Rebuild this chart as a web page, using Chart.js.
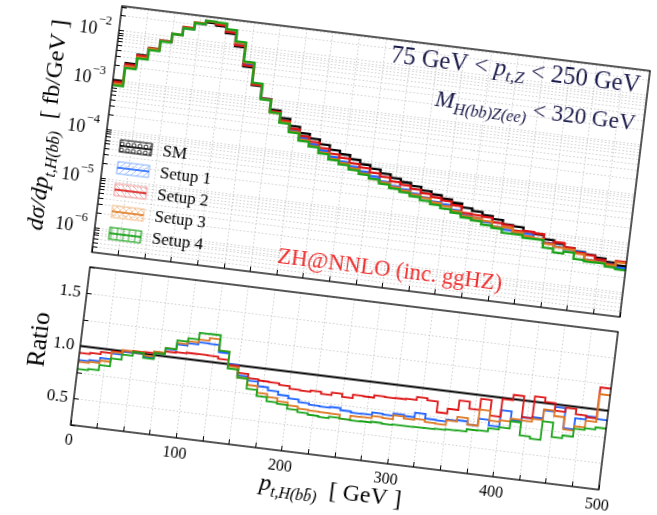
<!DOCTYPE html>
<html>
<head>
<meta charset="utf-8">
<script src="https://cdn.jsdelivr.net/npm/chart.js@4.4.0/dist/chart.umd.min.js"></script>
<style>
html, body { margin: 0; padding: 0; background: #fff; overflow: hidden; }
body { width: 657px; height: 515px; position: relative; }
#fig { position: absolute; left: 22px; top: -4px; width: 660px; height: 560px;
       transform-origin: 100px 10px; transform: rotate(7deg); }
#top { position: absolute; left: 0; top: 0; }
#bot { position: absolute; left: 0; top: 263px; }
</style>
</head>
<body>
<div id="fig">
  <canvas id="top" width="652" height="262"></canvas>
  <canvas id="bot" width="652" height="275"></canvas>
</div>
<script>
// bin edges in GeV (10 GeV bins)
const binEdges = [0,10,20,30,40,50,60,70,80,90,100,110,120,130,140,150,160,170,180,190,
  200,210,220,230,240,250,260,270,280,290,300,310,320,330,340,350,360,370,380,390,
  400,410,420,430,440,450,460,470,480,490,500];

// SM distribution, fb/GeV
const sm = [1.0e-3, 2.33e-3, 3.67e-3, 5.3e-3, 7.96e-3, 1.16e-2, 1.68e-2, 2.16e-2, 2.4e-2, 2.19e-2,
  1.65e-2, 9.4e-3, 3.9e-3, 1.73e-3, 9.9e-4, 6.2e-4, 4.5e-4, 3.3e-4, 2.5e-4, 2.06e-4,
  1.68e-4, 1.37e-4, 1.19e-4, 1.0e-4, 8.4e-5, 7.3e-5, 6.2e-5, 5.3e-5, 4.65e-5, 4.1e-5,
  3.55e-5, 3.13e-5, 2.75e-5, 2.4e-5, 2.02e-5, 1.83e-5, 1.6e-5, 1.41e-5, 1.19e-5, 1.13e-5,
  9.8e-6, 8.9e-6, 7.5e-6, 6.6e-6, 5.7e-6, 5.15e-6, 4.7e-6, 4.27e-6, 3.7e-6, 3.36e-6];

// ratios to SM
const ratio1 = [0.866,0.878,0.912,0.965,0.999,1.011,0.971,1.029,1.072,1.126,
  1.15,1.171,1.168,1.101,1.003,0.906,0.87,0.828,0.8,0.771,
  0.749,0.726,0.713,0.709,0.717,0.698,0.688,0.69,0.714,0.706,
  0.727,0.717,0.76,0.717,0.713,0.732,0.738,0.71,0.777,0.726,
  0.883,0.8,0.842,0.854,0.93,0.975,0.786,0.893,0.925,0.91];
const ratio2 = [0.935,0.947,0.969,0.987,1.008,1.014,1.017,1.035,1.047,1.053,
  1.059,1.061,1.058,1.038,0.994,0.93,0.892,0.882,0.879,0.865,
  0.84,0.836,0.848,0.829,0.852,0.824,0.858,0.854,0.876,0.872,
  0.875,0.88,0.91,0.89,0.79,0.835,0.926,0.86,0.966,0.82,
  0.99,1.04,0.84,1.05,1.01,0.94,0.98,0.93,0.915,1.21];
const ratio3 = [0.85,0.862,0.887,0.98,1.008,1.011,0.985,1.035,1.079,1.141,
  1.168,1.197,1.222,1.117,0.98,0.887,0.828,0.766,0.737,0.708,
  0.682,0.663,0.66,0.656,0.654,0.62,0.657,0.659,0.68,0.674,
  0.712,0.692,0.704,0.685,0.68,0.725,0.77,0.71,0.865,0.773,
  0.786,0.815,0.81,0.838,0.939,0.889,0.774,0.818,0.88,1.146];
const ratio4 = [0.781,0.793,0.843,0.918,0.968,1.005,0.961,1.02,1.079,1.163,
  1.197,1.26,1.262,1.117,0.96,0.887,0.792,0.735,0.697,0.686,
  0.65,0.631,0.618,0.609,0.623,0.62,0.614,0.618,0.625,0.62,
  0.624,0.623,0.626,0.629,0.634,0.64,0.643,0.665,0.668,0.7,
  0.72,0.79,0.669,0.65,0.826,0.69,0.717,0.793,0.81,0.83];
const refRatio = 1.0;

const labels = ['SM', 'Setup 1', 'Setup 2', 'Setup 3', 'Setup 4'];
const colors = ['#000000', '#1f63ff', '#dd1515', '#dd7722', '#1aa31a'];
const lightColors = ['#000000', '#86b0ff', '#f49a9a', '#f6bf8c', '#1aa31a'];
const hatches = ['o', '/', '\\', 'x', '+'];

const xTicks = [0,25,50,75,100,125,150,175,200,225,250,275,300,325,350,375,400,425,450,475,500];
const yDecades = [-2, -3, -4, -5, -6];
const yRatioTicks = [0.25, 0.5, 0.75, 1.0, 1.25, 1.5, 1.75];
const yMin = Math.pow(10, -6.5), yMax = Math.pow(10, -1.5);

const SERIF = '"Liberation Serif", "DejaVu Serif", serif';

function steps(vals) {
  return binEdges.map(function (e, i) { return { x: e, y: vals[Math.min(i, vals.length - 1)] }; });
}
function scaled(r) {
  return sm.map(function (v, i) { return v * r[i]; });
}
function line(label, data, color, width, order) {
  return { label: label, data: data, borderColor: color, borderWidth: width, stepped: 'before',
           pointRadius: 0, fill: false, order: order };
}

// log ticks 1..9 x 10^e
var logTicks = [];
for (var e = -7; e <= -1; e++) {
  for (var m = 1; m <= 9; m++) {
    var v = m * Math.pow(10, e);
    if (v >= yMin * 0.999 && v <= yMax * 1.001) logTicks.push(v);
  }
}

// draw text made of pieces (with subscripts), scaled to a target width
function drawRich(ctx, parts, x, y, o) {
  var k = 1;
  function font(p) { return (p[2] ? 'italic ' : '') + (p[1] * k).toFixed(2) + 'px ' + SERIF; }
  function measure() {
    return parts.reduce(function (w, p) { ctx.font = font(p); return w + ctx.measureText(p[0]).width; }, 0);
  }
  ctx.save();
  ctx.translate(x, y);
  if (o.rot) ctx.rotate(o.rot);
  if (o.width) k = o.width / measure();
  var w = measure();
  var cx = o.align === 'right' ? -w : (o.align === 'center' ? -w / 2 : 0);
  ctx.fillStyle = o.color || '#000';
  ctx.textBaseline = 'alphabetic';
  ctx.textAlign = 'left';
  parts.forEach(function (p) {
    ctx.font = font(p);
    ctx.fillText(p[0], cx, (p[3] || 0) * k);
    cx += ctx.measureText(p[0]).width;
  });
  ctx.restore();
}

function hatchPattern(ctx, color, kind) {
  var c = document.createElement('canvas');
  c.width = 6; c.height = 6;
  var g = c.getContext('2d');
  g.strokeStyle = color; g.lineWidth = 0.8;
  g.beginPath();
  if (kind === '/' || kind === 'x') { g.moveTo(-1, 7); g.lineTo(7, -1); g.moveTo(-4, 4); g.lineTo(4, -4); g.moveTo(2, 10); g.lineTo(10, 2); }
  if (kind === '\\' || kind === 'x') { g.moveTo(-1, -1); g.lineTo(7, 7); g.moveTo(-4, 2); g.lineTo(4, 10); g.moveTo(2, -4); g.lineTo(10, 4); }
  if (kind === '+') { g.moveTo(0, 3); g.lineTo(6, 3); g.moveTo(3, 0); g.lineTo(3, 6); }
  if (kind === 'o') { g.arc(3, 3, 2, 0, 2 * Math.PI); }
  g.stroke();
  return ctx.createPattern(c, 'repeat');
}

var frame = {
  id: 'frame',
  afterDatasetsDraw: function (chart) {
    var a = chart.chartArea, ctx = chart.ctx;
    ctx.save();
    ctx.strokeStyle = '#000'; ctx.lineWidth = 1.3;
    ctx.strokeRect(a.left, a.top, a.right - a.left, a.bottom - a.top);
    ctx.restore();
  }
};

var upperText = {
  id: 'upperText',
  afterDraw: function (chart) {
    var ctx = chart.ctx, s = chart.scales.y;
    // y tick labels 10^n
    ctx.save();
    ctx.fillStyle = '#000'; ctx.textBaseline = 'middle'; ctx.textAlign = 'right';
    yDecades.forEach(function (d) {
      var py = s.getPixelForValue(Math.pow(10, d));
      var x = s.right - 8;
      var sup = '\u2212' + Math.abs(d);
      ctx.font = '12.5px ' + SERIF;
      ctx.fillText(sup, x, py - 8);
      var w = ctx.measureText(sup).width;
      ctx.font = '18px ' + SERIF;
      ctx.fillText('10', x - w - 0.5, py + 1);
    });
    ctx.restore();

    // y title
    drawRich(ctx, [['d\u03c3/dp', 21, true], ['t,H(bb\u0304)', 14, true, 5], ['  [ fb/GeV ]', 21, false]],
      48, 137, { rot: -Math.PI / 2, align: 'center', width: 212 });
    // annotations
    drawRich(ctx, [['75 GeV < ', 20, false], ['p', 20, true], ['t,Z', 14, true, 4], [' < 250 GeV', 20, false]],
      624, 33, { align: 'right', width: 251, color: '#1c1c4c' });
    drawRich(ctx, [['M', 20, true], ['H(bb)Z(ee)', 14, true, 5], [' < 320 GeV', 20, false]],
      624, 71, { align: 'right', width: 202, color: '#1c1c4c' });
    drawRich(ctx, [['ZH@NNLO (inc. ggHZ)', 22, false]], 285, 246, { align: 'left', width: 226, color: '#f03030' });

    // legend
    ctx.save();
    labels.forEach(function (lab, i) {
      var cy = 149 + i * 22;
      ctx.fillStyle = hatchPattern(ctx, lightColors[i], hatches[i]);
      ctx.fillRect(115, cy - 6, 32, 12);
      ctx.strokeStyle = lightColors[i]; ctx.lineWidth = 1;
      ctx.strokeRect(115, cy - 6, 32, 12);
      ctx.strokeStyle = colors[i]; ctx.lineWidth = 1.6;
      ctx.beginPath(); ctx.moveTo(115, cy); ctx.lineTo(147, cy); ctx.stroke();
      ctx.fillStyle = '#000'; ctx.font = '17px ' + SERIF;
      ctx.textBaseline = 'middle'; ctx.textAlign = 'left';
      ctx.fillText(lab, 158, cy + 1);
    });
    ctx.restore();
  }
};

var lowerText = {
  id: 'lowerText',
  afterDraw: function (chart) {
    var ctx = chart.ctx;
    drawRich(ctx, [['Ratio', 20, false]], 66, 88, { rot: -Math.PI / 2, align: 'center', width: 55 });
    drawRich(ctx, [['p', 21, true], ['t,H(bb\u0304)', 14, true, 5], ['  [ GeV ]', 21, false]],
      366, 210, { align: 'center', width: 143 });
  }
};

var gridOpts = { color: '#c2c2c2', lineWidth: 0.8, tickLength: -5, tickColor: '#000', tickWidth: 1, tickBorderDash: [] };
var borderOpts = { display: false, dash: [1.5, 2.2] };

// keep the plot areas fixed: no extra room for edge labels
function fixX(h) {
  return function (s) { s.height = h; s.paddingLeft = 0; s.paddingRight = 0; };
}
function fixY(w) {
  return function (s) { s.width = w; s.paddingTop = 0; s.paddingBottom = 0; };
}

var upperSets = [line('SM', steps(sm), colors[0], 2.3, 5)];
[ratio1, ratio2, ratio3, ratio4].forEach(function (r, i) {
  upperSets.push(line(labels[i + 1], steps(scaled(r)), colors[i + 1], 2.3, 4 - i));
});

new Chart(document.getElementById('top'), {
  type: 'line',
  data: { datasets: upperSets },
  options: {
    responsive: false, maintainAspectRatio: false, animation: false, events: [],
    layout: { padding: { left: 0, top: 10, right: 20, bottom: 0 } },
    plugins: { legend: { display: false }, tooltip: { enabled: false } },
    scales: {
      x: {
        type: 'linear', min: 0, max: 500,
        afterBuildTicks: function (s) { s.ticks = xTicks.map(function (v) { return { value: v }; }); },
        ticks: { display: false },
        grid: gridOpts, border: borderOpts,
        afterFit: fixX(4)
      },
      y: {
        type: 'logarithmic', min: yMin, max: yMax,
        afterBuildTicks: function (s) { s.ticks = logTicks.map(function (v) { return { value: v }; }); },
        ticks: { display: false },
        grid: gridOpts, border: borderOpts,
        afterFit: fixY(100)
      }
    }
  },
  plugins: [frame, upperText]
});

var lowerSets = [{
  label: 'SM', data: [{ x: 0, y: refRatio }, { x: 500, y: refRatio }], borderColor: '#000',
  borderWidth: 1.8, pointRadius: 0, fill: false, order: 5
}];
[ratio1, ratio2, ratio3, ratio4].forEach(function (r, i) {
  lowerSets.push(line(labels[i + 1], steps(r), colors[i + 1], 1.8, 4 - i));
});

new Chart(document.getElementById('bot'), {
  type: 'line',
  data: { datasets: lowerSets },
  options: {
    responsive: false, maintainAspectRatio: false, animation: false, events: [],
    layout: { padding: { left: 0, top: 10, right: 20, bottom: 0 } },
    plugins: { legend: { display: false }, tooltip: { enabled: false } },
    scales: {
      x: {
        type: 'linear', min: 0, max: 500,
        afterBuildTicks: function (s) { s.ticks = xTicks.map(function (v) { return { value: v }; }); },
        ticks: {
          autoSkip: false, maxRotation: 0, padding: 11, color: '#000',
          font: { family: SERIF, size: 16 },
          callback: function (v) { return v % 100 === 0 ? String(v) : ''; }
        },
        grid: gridOpts, border: borderOpts,
        afterFit: fixX(106)
      },
      y: {
        type: 'linear', min: 0.25, max: 1.75,
        afterBuildTicks: function (s) { s.ticks = yRatioTicks.map(function (v) { return { value: v }; }); },
        ticks: {
          autoSkip: false, padding: 11, color: '#000',
          font: { family: SERIF, size: 17 },
          callback: function (v) { return Math.abs(v * 2 - Math.round(v * 2)) < 1e-6 ? v.toFixed(1) : ''; }
        },
        grid: gridOpts, border: borderOpts,
        afterFit: fixY(100)
      }
    }
  },
  plugins: [frame, lowerText]
});
</script>
</body>
</html>
